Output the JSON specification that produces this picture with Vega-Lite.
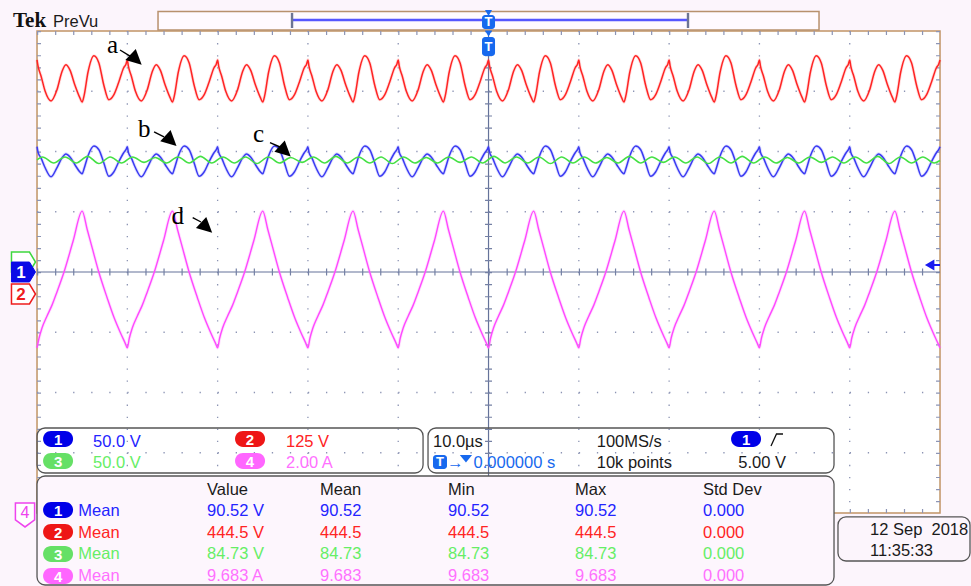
{
  "$schema": "https://vega.github.io/schema/vega-lite/v6.json",
  "width": 971,
  "height": 586,
  "autosize": {"type": "fit", "contains": "padding"},
  "padding": 0,
  "background": "#fcf5fc",
  "config": {"view": {"stroke": null}},
  "datasets": {
    "frame": [{"t": -50, "t2": 50, "v": 4, "v2": -4}],
    "vdiv": [
      {"t": -40, "v": 4, "v2": -4}, {"t": -30, "v": 4, "v2": -4}, {"t": -20, "v": 4, "v2": -4}, {"t": -10, "v": 4, "v2": -4},
      {"t": 10, "v": 4, "v2": -4}, {"t": 20, "v": 4, "v2": -4}, {"t": 30, "v": 4, "v2": -4}, {"t": 40, "v": 4, "v2": -4}
    ],
    "hdiv": [
      {"t": -50, "t2": 50, "v": 3}, {"t": -50, "t2": 50, "v": 2}, {"t": -50, "t2": 50, "v": 1},
      {"t": -50, "t2": 50, "v": -1}, {"t": -50, "t2": 50, "v": -2}, {"t": -50, "t2": 50, "v": -3}
    ],
    "hedge": [{"t": -50, "t2": 50, "v": 3.967}, {"t": -50, "t2": 50, "v": -3.967}],
    "vedge": [{"t": -49.78, "v": 4, "v2": -4}, {"t": 49.78, "v": 4, "v2": -4}],
    "hctr": [{"t": -50, "t2": 50, "v": 0}],
    "vctr": [{"t": 0, "v": 4, "v2": -4}],
    "ch12": [
      {"t":-50,"v":3.52,"b":2.08},{"t":-49.89,"v":3.42,"b":1.99},{"t":-49.55,"v":3.25,"b":1.89},{"t":-49.1,"v":3.0,"b":1.73},{"t":-48.45,"v":2.84,"b":1.58},{"t":-47.8,"v":3.02,"b":1.73},{"t":-47.25,"v":3.32,"b":1.89},{"t":-46.8,"v":3.44,"b":1.96},{"t":-46.35,"v":3.35,"b":1.91},{"t":-45.8,"v":3.1,"b":1.78},{"t":-45.25,"v":2.89,"b":1.66},{"t":-45,"v":2.82,"b":1.63},{"t":-44.8,"v":2.92,"b":1.71},{"t":-44.35,"v":3.32,"b":1.93},{"t":-43.7,"v":3.59,"b":2.09},{"t":-43.15,"v":3.47,"b":2.03},{"t":-42.6,"v":3.1,"b":1.81},{"t":-42.05,"v":2.86,"b":1.59},{"t":-41.5,"v":2.94,"b":1.66},{"t":-40.95,"v":3.15,"b":1.83},{"t":-40.4,"v":3.39,"b":1.98},{"t":-40.15,"v":3.45,"b":2.03},
      {"t":-40,"v":3.52,"b":2.08},{"t":-39.89,"v":3.42,"b":1.99},{"t":-39.55,"v":3.25,"b":1.89},{"t":-39.1,"v":3.0,"b":1.73},{"t":-38.45,"v":2.84,"b":1.58},{"t":-37.8,"v":3.02,"b":1.73},{"t":-37.25,"v":3.32,"b":1.89},{"t":-36.8,"v":3.44,"b":1.96},{"t":-36.35,"v":3.35,"b":1.91},{"t":-35.8,"v":3.1,"b":1.78},{"t":-35.25,"v":2.89,"b":1.66},{"t":-35,"v":2.82,"b":1.63},{"t":-34.8,"v":2.92,"b":1.71},{"t":-34.35,"v":3.32,"b":1.93},{"t":-33.7,"v":3.59,"b":2.09},{"t":-33.15,"v":3.47,"b":2.03},{"t":-32.6,"v":3.1,"b":1.81},{"t":-32.05,"v":2.86,"b":1.59},{"t":-31.5,"v":2.94,"b":1.66},{"t":-30.95,"v":3.15,"b":1.83},{"t":-30.4,"v":3.39,"b":1.98},{"t":-30.15,"v":3.45,"b":2.03},
      {"t":-30,"v":3.52,"b":2.08},{"t":-29.89,"v":3.42,"b":1.99},{"t":-29.55,"v":3.25,"b":1.89},{"t":-29.1,"v":3.0,"b":1.73},{"t":-28.45,"v":2.84,"b":1.58},{"t":-27.8,"v":3.02,"b":1.73},{"t":-27.25,"v":3.32,"b":1.89},{"t":-26.8,"v":3.44,"b":1.96},{"t":-26.35,"v":3.35,"b":1.91},{"t":-25.8,"v":3.1,"b":1.78},{"t":-25.25,"v":2.89,"b":1.66},{"t":-25,"v":2.82,"b":1.63},{"t":-24.8,"v":2.92,"b":1.71},{"t":-24.35,"v":3.32,"b":1.93},{"t":-23.7,"v":3.59,"b":2.09},{"t":-23.15,"v":3.47,"b":2.03},{"t":-22.6,"v":3.1,"b":1.81},{"t":-22.05,"v":2.86,"b":1.59},{"t":-21.5,"v":2.94,"b":1.66},{"t":-20.95,"v":3.15,"b":1.83},{"t":-20.4,"v":3.39,"b":1.98},{"t":-20.15,"v":3.45,"b":2.03},
      {"t":-20,"v":3.52,"b":2.08},{"t":-19.89,"v":3.42,"b":1.99},{"t":-19.55,"v":3.25,"b":1.89},{"t":-19.1,"v":3.0,"b":1.73},{"t":-18.45,"v":2.84,"b":1.58},{"t":-17.8,"v":3.02,"b":1.73},{"t":-17.25,"v":3.32,"b":1.89},{"t":-16.8,"v":3.44,"b":1.96},{"t":-16.35,"v":3.35,"b":1.91},{"t":-15.8,"v":3.1,"b":1.78},{"t":-15.25,"v":2.89,"b":1.66},{"t":-15,"v":2.82,"b":1.63},{"t":-14.8,"v":2.92,"b":1.71},{"t":-14.35,"v":3.32,"b":1.93},{"t":-13.7,"v":3.59,"b":2.09},{"t":-13.15,"v":3.47,"b":2.03},{"t":-12.6,"v":3.1,"b":1.81},{"t":-12.05,"v":2.86,"b":1.59},{"t":-11.5,"v":2.94,"b":1.66},{"t":-10.95,"v":3.15,"b":1.83},{"t":-10.4,"v":3.39,"b":1.98},{"t":-10.15,"v":3.45,"b":2.03},
      {"t":-10,"v":3.52,"b":2.08},{"t":-9.89,"v":3.42,"b":1.99},{"t":-9.55,"v":3.25,"b":1.89},{"t":-9.1,"v":3.0,"b":1.73},{"t":-8.45,"v":2.84,"b":1.58},{"t":-7.8,"v":3.02,"b":1.73},{"t":-7.25,"v":3.32,"b":1.89},{"t":-6.8,"v":3.44,"b":1.96},{"t":-6.35,"v":3.35,"b":1.91},{"t":-5.8,"v":3.1,"b":1.78},{"t":-5.25,"v":2.89,"b":1.66},{"t":-5,"v":2.82,"b":1.63},{"t":-4.8,"v":2.92,"b":1.71},{"t":-4.35,"v":3.32,"b":1.93},{"t":-3.7,"v":3.59,"b":2.09},{"t":-3.15,"v":3.47,"b":2.03},{"t":-2.6,"v":3.1,"b":1.81},{"t":-2.05,"v":2.86,"b":1.59},{"t":-1.5,"v":2.94,"b":1.66},{"t":-0.95,"v":3.15,"b":1.83},{"t":-0.4,"v":3.39,"b":1.98},{"t":-0.15,"v":3.45,"b":2.03},
      {"t":0,"v":3.52,"b":2.08},{"t":0.11,"v":3.42,"b":1.99},{"t":0.45,"v":3.25,"b":1.89},{"t":0.9,"v":3.0,"b":1.73},{"t":1.55,"v":2.84,"b":1.58},{"t":2.2,"v":3.02,"b":1.73},{"t":2.75,"v":3.32,"b":1.89},{"t":3.2,"v":3.44,"b":1.96},{"t":3.65,"v":3.35,"b":1.91},{"t":4.2,"v":3.1,"b":1.78},{"t":4.75,"v":2.89,"b":1.66},{"t":5,"v":2.82,"b":1.63},{"t":5.2,"v":2.92,"b":1.71},{"t":5.65,"v":3.32,"b":1.93},{"t":6.3,"v":3.59,"b":2.09},{"t":6.85,"v":3.47,"b":2.03},{"t":7.4,"v":3.1,"b":1.81},{"t":7.95,"v":2.86,"b":1.59},{"t":8.5,"v":2.94,"b":1.66},{"t":9.05,"v":3.15,"b":1.83},{"t":9.6,"v":3.39,"b":1.98},{"t":9.85,"v":3.45,"b":2.03},
      {"t":10,"v":3.52,"b":2.08},{"t":10.11,"v":3.42,"b":1.99},{"t":10.45,"v":3.25,"b":1.89},{"t":10.9,"v":3.0,"b":1.73},{"t":11.55,"v":2.84,"b":1.58},{"t":12.2,"v":3.02,"b":1.73},{"t":12.75,"v":3.32,"b":1.89},{"t":13.2,"v":3.44,"b":1.96},{"t":13.65,"v":3.35,"b":1.91},{"t":14.2,"v":3.1,"b":1.78},{"t":14.75,"v":2.89,"b":1.66},{"t":15,"v":2.82,"b":1.63},{"t":15.2,"v":2.92,"b":1.71},{"t":15.65,"v":3.32,"b":1.93},{"t":16.3,"v":3.59,"b":2.09},{"t":16.85,"v":3.47,"b":2.03},{"t":17.4,"v":3.1,"b":1.81},{"t":17.95,"v":2.86,"b":1.59},{"t":18.5,"v":2.94,"b":1.66},{"t":19.05,"v":3.15,"b":1.83},{"t":19.6,"v":3.39,"b":1.98},{"t":19.85,"v":3.45,"b":2.03},
      {"t":20,"v":3.52,"b":2.08},{"t":20.11,"v":3.42,"b":1.99},{"t":20.45,"v":3.25,"b":1.89},{"t":20.9,"v":3.0,"b":1.73},{"t":21.55,"v":2.84,"b":1.58},{"t":22.2,"v":3.02,"b":1.73},{"t":22.75,"v":3.32,"b":1.89},{"t":23.2,"v":3.44,"b":1.96},{"t":23.65,"v":3.35,"b":1.91},{"t":24.2,"v":3.1,"b":1.78},{"t":24.75,"v":2.89,"b":1.66},{"t":25,"v":2.82,"b":1.63},{"t":25.2,"v":2.92,"b":1.71},{"t":25.65,"v":3.32,"b":1.93},{"t":26.3,"v":3.59,"b":2.09},{"t":26.85,"v":3.47,"b":2.03},{"t":27.4,"v":3.1,"b":1.81},{"t":27.95,"v":2.86,"b":1.59},{"t":28.5,"v":2.94,"b":1.66},{"t":29.05,"v":3.15,"b":1.83},{"t":29.6,"v":3.39,"b":1.98},{"t":29.85,"v":3.45,"b":2.03},
      {"t":30,"v":3.52,"b":2.08},{"t":30.11,"v":3.42,"b":1.99},{"t":30.45,"v":3.25,"b":1.89},{"t":30.9,"v":3.0,"b":1.73},{"t":31.55,"v":2.84,"b":1.58},{"t":32.2,"v":3.02,"b":1.73},{"t":32.75,"v":3.32,"b":1.89},{"t":33.2,"v":3.44,"b":1.96},{"t":33.65,"v":3.35,"b":1.91},{"t":34.2,"v":3.1,"b":1.78},{"t":34.75,"v":2.89,"b":1.66},{"t":35,"v":2.82,"b":1.63},{"t":35.2,"v":2.92,"b":1.71},{"t":35.65,"v":3.32,"b":1.93},{"t":36.3,"v":3.59,"b":2.09},{"t":36.85,"v":3.47,"b":2.03},{"t":37.4,"v":3.1,"b":1.81},{"t":37.95,"v":2.86,"b":1.59},{"t":38.5,"v":2.94,"b":1.66},{"t":39.05,"v":3.15,"b":1.83},{"t":39.6,"v":3.39,"b":1.98},{"t":39.85,"v":3.45,"b":2.03},
      {"t":40,"v":3.52,"b":2.08},{"t":40.11,"v":3.42,"b":1.99},{"t":40.45,"v":3.25,"b":1.89},{"t":40.9,"v":3.0,"b":1.73},{"t":41.55,"v":2.84,"b":1.58},{"t":42.2,"v":3.02,"b":1.73},{"t":42.75,"v":3.32,"b":1.89},{"t":43.2,"v":3.44,"b":1.96},{"t":43.65,"v":3.35,"b":1.91},{"t":44.2,"v":3.1,"b":1.78},{"t":44.75,"v":2.89,"b":1.66},{"t":45,"v":2.82,"b":1.63},{"t":45.2,"v":2.92,"b":1.71},{"t":45.65,"v":3.32,"b":1.93},{"t":46.3,"v":3.59,"b":2.09},{"t":46.85,"v":3.47,"b":2.03},{"t":47.4,"v":3.1,"b":1.81},{"t":47.95,"v":2.86,"b":1.59},{"t":48.5,"v":2.94,"b":1.66},{"t":49.05,"v":3.15,"b":1.83},{"t":49.6,"v":3.39,"b":1.98},{"t":49.85,"v":3.45,"b":2.03},
      {"t":50,"v":3.52,"b":2.08}
    ],
    "ch3": [
      {"t":-50,"v":1.86},{"t":-49.4,"v":1.91},{"t":-48.15,"v":1.81},{"t":-46.9,"v":1.91},{"t":-45.65,"v":1.81},{"t":-44.4,"v":1.92},{"t":-43.15,"v":1.8},{"t":-41.9,"v":1.91},{"t":-40.65,"v":1.81},
      {"t":-39.4,"v":1.91},{"t":-38.15,"v":1.82},{"t":-36.9,"v":1.9},{"t":-35.65,"v":1.81},{"t":-34.4,"v":1.91},{"t":-33.15,"v":1.81},{"t":-31.9,"v":1.92},{"t":-30.65,"v":1.81},
      {"t":-29.4,"v":1.91},{"t":-28.15,"v":1.81},{"t":-26.9,"v":1.91},{"t":-25.65,"v":1.8},{"t":-24.4,"v":1.91},{"t":-23.15,"v":1.81},{"t":-21.9,"v":1.9},{"t":-20.65,"v":1.82},
      {"t":-19.4,"v":1.91},{"t":-18.15,"v":1.81},{"t":-16.9,"v":1.92},{"t":-15.65,"v":1.81},{"t":-14.4,"v":1.91},{"t":-13.15,"v":1.81},{"t":-11.9,"v":1.91},{"t":-10.65,"v":1.8},
      {"t":-9.4,"v":1.91},{"t":-8.15,"v":1.81},{"t":-6.9,"v":1.9},{"t":-5.65,"v":1.81},{"t":-4.4,"v":1.91},{"t":-3.15,"v":1.82},{"t":-1.9,"v":1.91},{"t":-0.65,"v":1.81},
      {"t":0.6,"v":1.92},{"t":1.85,"v":1.81},{"t":3.1,"v":1.91},{"t":4.35,"v":1.81},{"t":5.6,"v":1.91},{"t":6.85,"v":1.8},{"t":8.1,"v":1.91},{"t":9.35,"v":1.81},
      {"t":10.6,"v":1.91},{"t":11.85,"v":1.81},{"t":13.1,"v":1.9},{"t":14.35,"v":1.81},{"t":15.6,"v":1.92},{"t":16.85,"v":1.81},{"t":18.1,"v":1.91},{"t":19.35,"v":1.82},
      {"t":20.6,"v":1.91},{"t":21.85,"v":1.81},{"t":23.1,"v":1.91},{"t":24.35,"v":1.8},{"t":25.6,"v":1.91},{"t":26.85,"v":1.81},{"t":28.1,"v":1.92},{"t":29.35,"v":1.81},
      {"t":30.6,"v":1.91},{"t":31.85,"v":1.81},{"t":33.1,"v":1.9},{"t":34.35,"v":1.81},{"t":35.6,"v":1.91},{"t":36.85,"v":1.82},{"t":38.1,"v":1.91},{"t":39.35,"v":1.81},
      {"t":40.6,"v":1.91},{"t":41.85,"v":1.81},{"t":43.1,"v":1.92},{"t":44.35,"v":1.8},{"t":45.6,"v":1.91},{"t":46.85,"v":1.81},{"t":48.1,"v":1.91},{"t":49.35,"v":1.81},{"t":50,"v":1.85}
    ],
    "ch4": [
      {"t":-50,"v":-1.26},{"t":-49.78,"v":-1.1},{"t":-49.45,"v":-0.93},{"t":-48.89,"v":-0.73},{"t":-48.34,"v":-0.55},{"t":-47.79,"v":-0.33},{"t":-47.01,"v":0},{"t":-46.01,"v":0.51},{"t":-45,"v":1.01},{"t":-44.45,"v":0.71},{"t":-43.89,"v":0.4},{"t":-43.16,"v":0},{"t":-42.23,"v":-0.43},{"t":-41.46,"v":-0.76},{"t":-40.79,"v":-1.0},{"t":-40.24,"v":-1.18},
      {"t":-40,"v":-1.26},{"t":-39.78,"v":-1.1},{"t":-39.45,"v":-0.93},{"t":-38.89,"v":-0.73},{"t":-38.34,"v":-0.55},{"t":-37.79,"v":-0.33},{"t":-37.01,"v":0},{"t":-36.01,"v":0.51},{"t":-35,"v":1.01},{"t":-34.45,"v":0.71},{"t":-33.89,"v":0.4},{"t":-33.16,"v":0},{"t":-32.23,"v":-0.43},{"t":-31.46,"v":-0.76},{"t":-30.79,"v":-1.0},{"t":-30.24,"v":-1.18},
      {"t":-30,"v":-1.26},{"t":-29.78,"v":-1.1},{"t":-29.45,"v":-0.93},{"t":-28.89,"v":-0.73},{"t":-28.34,"v":-0.55},{"t":-27.79,"v":-0.33},{"t":-27.01,"v":0},{"t":-26.01,"v":0.51},{"t":-25,"v":1.01},{"t":-24.45,"v":0.71},{"t":-23.89,"v":0.4},{"t":-23.16,"v":0},{"t":-22.23,"v":-0.43},{"t":-21.46,"v":-0.76},{"t":-20.79,"v":-1.0},{"t":-20.24,"v":-1.18},
      {"t":-20,"v":-1.26},{"t":-19.78,"v":-1.1},{"t":-19.45,"v":-0.93},{"t":-18.89,"v":-0.73},{"t":-18.34,"v":-0.55},{"t":-17.79,"v":-0.33},{"t":-17.01,"v":0},{"t":-16.01,"v":0.51},{"t":-15,"v":1.01},{"t":-14.45,"v":0.71},{"t":-13.89,"v":0.4},{"t":-13.16,"v":0},{"t":-12.23,"v":-0.43},{"t":-11.46,"v":-0.76},{"t":-10.79,"v":-1.0},{"t":-10.24,"v":-1.18},
      {"t":-10,"v":-1.26},{"t":-9.78,"v":-1.1},{"t":-9.45,"v":-0.93},{"t":-8.89,"v":-0.73},{"t":-8.34,"v":-0.55},{"t":-7.79,"v":-0.33},{"t":-7.01,"v":0},{"t":-6.01,"v":0.51},{"t":-5,"v":1.01},{"t":-4.45,"v":0.71},{"t":-3.89,"v":0.4},{"t":-3.16,"v":0},{"t":-2.23,"v":-0.43},{"t":-1.46,"v":-0.76},{"t":-0.79,"v":-1.0},{"t":-0.24,"v":-1.18},
      {"t":0,"v":-1.26},{"t":0.22,"v":-1.1},{"t":0.55,"v":-0.93},{"t":1.11,"v":-0.73},{"t":1.66,"v":-0.55},{"t":2.21,"v":-0.33},{"t":2.99,"v":0},{"t":3.99,"v":0.51},{"t":5,"v":1.01},{"t":5.55,"v":0.71},{"t":6.11,"v":0.4},{"t":6.84,"v":0},{"t":7.77,"v":-0.43},{"t":8.54,"v":-0.76},{"t":9.21,"v":-1.0},{"t":9.76,"v":-1.18},
      {"t":10,"v":-1.26},{"t":10.22,"v":-1.1},{"t":10.55,"v":-0.93},{"t":11.11,"v":-0.73},{"t":11.66,"v":-0.55},{"t":12.21,"v":-0.33},{"t":12.99,"v":0},{"t":13.99,"v":0.51},{"t":15,"v":1.01},{"t":15.55,"v":0.71},{"t":16.11,"v":0.4},{"t":16.84,"v":0},{"t":17.77,"v":-0.43},{"t":18.54,"v":-0.76},{"t":19.21,"v":-1.0},{"t":19.76,"v":-1.18},
      {"t":20,"v":-1.26},{"t":20.22,"v":-1.1},{"t":20.55,"v":-0.93},{"t":21.11,"v":-0.73},{"t":21.66,"v":-0.55},{"t":22.21,"v":-0.33},{"t":22.99,"v":0},{"t":23.99,"v":0.51},{"t":25,"v":1.01},{"t":25.55,"v":0.71},{"t":26.11,"v":0.4},{"t":26.84,"v":0},{"t":27.77,"v":-0.43},{"t":28.54,"v":-0.76},{"t":29.21,"v":-1.0},{"t":29.76,"v":-1.18},
      {"t":30,"v":-1.26},{"t":30.22,"v":-1.1},{"t":30.55,"v":-0.93},{"t":31.11,"v":-0.73},{"t":31.66,"v":-0.55},{"t":32.21,"v":-0.33},{"t":32.99,"v":0},{"t":33.99,"v":0.51},{"t":35,"v":1.01},{"t":35.55,"v":0.71},{"t":36.11,"v":0.4},{"t":36.84,"v":0},{"t":37.77,"v":-0.43},{"t":38.54,"v":-0.76},{"t":39.21,"v":-1.0},{"t":39.76,"v":-1.18},
      {"t":40,"v":-1.26},{"t":40.22,"v":-1.1},{"t":40.55,"v":-0.93},{"t":41.11,"v":-0.73},{"t":41.66,"v":-0.55},{"t":42.21,"v":-0.33},{"t":42.99,"v":0},{"t":43.99,"v":0.51},{"t":45,"v":1.01},{"t":45.55,"v":0.71},{"t":46.11,"v":0.4},{"t":46.84,"v":0},{"t":47.77,"v":-0.43},{"t":48.54,"v":-0.76},{"t":49.21,"v":-1.0},{"t":49.76,"v":-1.18},
      {"t":50,"v":-1.26}
    ],
    "arrows": [
      {"t": -40.81, "v": 3.685, "t2": -39.7, "v2": 3.585},
      {"t": -37.04, "v": 2.324, "t2": -35.94, "v2": 2.241},
      {"t": -24.2, "v": 2.146, "t2": -23.09, "v2": 2.075},
      {"t": -32.76, "v": 0.901, "t2": -31.84, "v2": 0.83}
    ],
    "heads": [
      {"t": -39.18, "v": 3.547}, {"t": -35.32, "v": 2.199}, {"t": -22.68, "v": 2.025}, {"t": -31.37, "v": 0.757}
    ],
    "letters": [
      {"t": -42.24, "v": 3.635, "s": "a"}, {"t": -38.81, "v": 2.241, "s": "b"},
      {"t": -26.08, "v": 2.163, "s": "c"}, {"t": -35.1, "v": 0.797, "s": "d"}
    ],
    "recbar": [{"t": -36.6, "t2": 36.6, "v": 4.324, "v2": 4.017}],
    "recwin": [{"t": -21.76, "t2": 22.09, "v": 4.183}],
    "recbrk": [{"t": -21.76, "v": 4.3, "v2": 4.05}, {"t": 22.09, "v": 4.3, "v2": 4.05}],
    "trigbox": [
      {"t": -0.72, "t2": 0.72, "v": 4.266, "v2": 4.033},
      {"t": -0.72, "t2": 0.72, "v": 3.9, "v2": 3.585},
      {"t": -6.15, "t2": -4.6, "v": -3.037, "v2": -3.27}
    ],
    "trigtri": [{"t": 0, "v": 4.299}, {"t": 0, "v": 3.959}],
    "panelTri": [{"t": -2.5, "v": -3.1}],
    "trigtxt": [{"t": 0, "v": 4.149, "s": "T"}, {"t": 0, "v": 3.743, "s": "T"}, {"t": -5.37, "v": -3.154, "s": "T"}],
    "tlev": [{"t": 48.85, "v": 0.116}],
    "tlevl": [{"t": 49.1, "t2": 50, "v": 0.116}],
    "panels": [
      {"t": -50, "t2": -7.25, "v": -2.589, "v2": -3.336},
      {"t": -6.7, "t2": 38.26, "v": -2.589, "v2": -3.336},
      {"t": 38.7, "t2": 53.32, "v": -4.066, "v2": -4.797}
    ],
    "meas": [{"t": -50, "t2": 38.26, "v": -3.386, "v2": -5.195}],
    "edge": [{"t": 31.28, "v": -2.888}, {"t": 31.89, "v": -2.689}, {"t": 32.61, "v": -2.689}],
    "pills": [
      {"c": "1", "t": -47.67, "v": -2.772, "s": "1"}, {"c": "2", "t": -26.41, "v": -2.772, "s": "2"},
      {"c": "3", "t": -47.67, "v": -3.137, "s": "3"}, {"c": "4", "t": -26.41, "v": -3.137, "s": "4"},
      {"c": "1", "t": 28.52, "v": -2.772, "s": "1"},
      {"c": "1", "t": -47.67, "v": -3.95, "s": "1"}, {"c": "2", "t": -47.67, "v": -4.315, "s": "2"},
      {"c": "3", "t": -47.67, "v": -4.68, "s": "3"}, {"c": "4", "t": -47.67, "v": -5.046, "s": "4"}
    ],
    "labels": [
      {"c": "k", "t": -48.23, "v": 4.071, "s": "PreVu"},
      {"c": "1", "t": -43.8, "v": -2.899, "s": "50.0 V"},
      {"c": "2", "t": -22.43, "v": -2.899, "s": "125 V"},
      {"c": "3", "t": -43.8, "v": -3.258, "s": "50.0 V"},
      {"c": "4", "t": -22.43, "v": -3.258, "s": "2.00 A"},
      {"c": "k", "t": -6.15, "v": -2.899, "s": "10.0µs"},
      {"c": "k", "t": 11.98, "v": -2.899, "s": "100MS/s"},
      {"c": "k", "t": 11.98, "v": -3.258, "s": "10k points"},
      {"c": "k", "t": 27.66, "v": -3.258, "s": "5.00 V"},
      {"c": "T", "t": -4.6, "v": -3.258, "s": "→"},
      {"c": "T", "t": -1.66, "v": -3.258, "s": "0.000000 s"},
      {"c": "k", "t": -31.17, "v": -3.701, "s": "Value"},
      {"c": "k", "t": -18.66, "v": -3.701, "s": "Mean"},
      {"c": "k", "t": -4.49, "v": -3.701, "s": "Min"},
      {"c": "k", "t": 9.58, "v": -3.701, "s": "Max"},
      {"c": "k", "t": 23.75, "v": -3.701, "s": "Std Dev"},
      {"c": "1", "t": -45.43, "v": -4.05, "s": "Mean"},
      {"c": "1", "t": -31.17, "v": -4.05, "s": "90.52 V"},
      {"c": "1", "t": -18.66, "v": -4.05, "s": "90.52"},
      {"c": "1", "t": -4.49, "v": -4.05, "s": "90.52"},
      {"c": "1", "t": 9.58, "v": -4.05, "s": "90.52"},
      {"c": "1", "t": 23.75, "v": -4.05, "s": "0.000"},
      {"c": "2", "t": -45.43, "v": -4.415, "s": "Mean"},
      {"c": "2", "t": -31.17, "v": -4.415, "s": "444.5 V"},
      {"c": "2", "t": -18.66, "v": -4.415, "s": "444.5"},
      {"c": "2", "t": -4.49, "v": -4.415, "s": "444.5"},
      {"c": "2", "t": 9.58, "v": -4.415, "s": "444.5"},
      {"c": "2", "t": 23.75, "v": -4.415, "s": "0.000"},
      {"c": "3", "t": -45.43, "v": -4.768, "s": "Mean"},
      {"c": "3", "t": -31.17, "v": -4.768, "s": "84.73 V"},
      {"c": "3", "t": -18.66, "v": -4.768, "s": "84.73"},
      {"c": "3", "t": -4.49, "v": -4.768, "s": "84.73"},
      {"c": "3", "t": 9.58, "v": -4.768, "s": "84.73"},
      {"c": "3", "t": 23.75, "v": -4.768, "s": "0.000"},
      {"c": "4", "t": -45.43, "v": -5.124, "s": "Mean"},
      {"c": "4", "t": -31.17, "v": -5.124, "s": "9.683 A"},
      {"c": "4", "t": -18.66, "v": -5.124, "s": "9.683"},
      {"c": "4", "t": -4.49, "v": -5.124, "s": "9.683"},
      {"c": "4", "t": 9.58, "v": -5.124, "s": "9.683"},
      {"c": "4", "t": 23.75, "v": -5.124, "s": "0.000"},
      {"c": "k", "t": 42.25, "v": -4.365, "s": "12 Sep\u00a0 2018"},
      {"c": "k", "t": 42.25, "v": -4.714, "s": "11:35:33"}
    ]
  },
  "encoding": {
    "x": {"field": "t", "type": "quantitative", "scale": {"domain": [-54.1, 53.43], "nice": false, "zero": false}, "axis": null},
    "y": {"field": "v", "type": "quantitative", "scale": {"domain": [-5.212, 4.515], "nice": false, "zero": false}, "axis": null}
  },
  "layer": [
    {"data": {"name": "frame"}, "mark": {"type": "rect", "fill": "#ffffff", "stroke": "#c19466", "strokeWidth": 1.5},
     "encoding": {"x2": {"field": "t2"}, "y2": {"field": "v2"}}},
    {"data": {"name": "vdiv"}, "mark": {"type": "rule", "color": "#8c94b4", "strokeWidth": 1.3, "strokeDash": [1.3, 10.75]},
     "encoding": {"y2": {"field": "v2"}}},
    {"data": {"name": "hdiv"}, "mark": {"type": "rule", "color": "#8c94b4", "strokeWidth": 1.3, "strokeDash": [1.3, 16.76]},
     "encoding": {"x2": {"field": "t2"}}},
    {"data": {"name": "hedge"}, "mark": {"type": "rule", "color": "#8c94b4", "strokeWidth": 4, "strokeDash": [1.2, 16.86]},
     "encoding": {"x2": {"field": "t2"}}},
    {"data": {"name": "vedge"}, "mark": {"type": "rule", "color": "#8c94b4", "strokeWidth": 4, "strokeDash": [1.2, 10.85]},
     "encoding": {"y2": {"field": "v2"}}},
    {"data": {"name": "hctr"}, "mark": {"type": "rule", "color": "#65739a", "strokeWidth": 1.2},
     "encoding": {"x2": {"field": "t2"}}},
    {"data": {"name": "vctr"}, "mark": {"type": "rule", "color": "#65739a", "strokeWidth": 1.2},
     "encoding": {"y2": {"field": "v2"}}},
    {"data": {"name": "hctr"}, "mark": {"type": "rule", "color": "#7480a4", "strokeWidth": 7, "strokeDash": [1.2, 16.86]},
     "encoding": {"x2": {"field": "t2"}}},
    {"data": {"name": "vctr"}, "mark": {"type": "rule", "color": "#7480a4", "strokeWidth": 7, "strokeDash": [1.2, 10.85]},
     "encoding": {"y2": {"field": "v2"}}},

    {"data": {"name": "ch12"}, "mark": {"type": "line", "color": "#ff6a6a", "strokeWidth": 3.2, "opacity": 0.22, "interpolate": "monotone"}},
    {"data": {"name": "ch12"}, "mark": {"type": "line", "color": "#6a6aff", "strokeWidth": 3.2, "opacity": 0.22, "interpolate": "monotone"},
     "encoding": {"y": {"field": "b", "type": "quantitative", "scale": {"domain": [-5.212, 4.515], "nice": false, "zero": false}, "axis": null}}},
    {"data": {"name": "ch4"}, "mark": {"type": "line", "color": "#ff8cff", "strokeWidth": 3.2, "opacity": 0.25, "interpolate": "monotone"}},
    {"data": {"name": "ch12"}, "mark": {"type": "line", "color": "#ff2424", "strokeWidth": 1.5, "interpolate": "monotone"}},
    {"data": {"name": "ch12"}, "mark": {"type": "line", "color": "#3a3af2", "strokeWidth": 1.5, "interpolate": "monotone"},
     "encoding": {"y": {"field": "b", "type": "quantitative", "scale": {"domain": [-5.212, 4.515], "nice": false, "zero": false}, "axis": null}}},
    {"data": {"name": "ch3"}, "mark": {"type": "line", "color": "#45e045", "strokeWidth": 1.6, "interpolate": "monotone"}},
    {"data": {"name": "ch4"}, "mark": {"type": "line", "color": "#ff48ff", "strokeWidth": 1.4, "interpolate": "monotone"}},

    {"data": {"name": "arrows"}, "mark": {"type": "rule", "color": "#000000", "strokeWidth": 1.4},
     "encoding": {"x2": {"field": "t2"}, "y2": {"field": "v2"}}},
    {"data": {"name": "heads"}, "mark": {"type": "point", "shape": "M0,-1L0.8,0.6L-0.8,0.6Z", "size": 360, "angle": 133, "filled": true, "color": "#000000", "opacity": 1}},
    {"data": {"name": "letters"}, "mark": {"type": "text", "font": "Liberation Serif", "fontSize": 25, "align": "left", "baseline": "alphabetic", "color": "#000000"},
     "encoding": {"text": {"field": "s"}}},

    {"data": {"name": "recbar"}, "mark": {"type": "rect", "fill": "#fffaff", "stroke": "#b8916e", "strokeWidth": 1.5},
     "encoding": {"x2": {"field": "t2"}, "y2": {"field": "v2"}}},
    {"data": {"name": "recwin"}, "mark": {"type": "rule", "color": "#5656ff", "strokeWidth": 2.6},
     "encoding": {"x2": {"field": "t2"}}},
    {"data": {"name": "recbrk"}, "mark": {"type": "rule", "color": "#6c7494", "strokeWidth": 2.4},
     "encoding": {"y2": {"field": "v2"}}},

    {"data": {"name": "trigbox"}, "mark": {"type": "rect", "fill": "#1769ee", "cornerRadius": 3},
     "encoding": {"x2": {"field": "t2"}, "y2": {"field": "v2"}}},
    {"data": {"name": "trigtri"}, "mark": {"type": "point", "shape": "triangle-down", "size": 50, "filled": true, "color": "#1769ee", "opacity": 1}},
    {"data": {"name": "panelTri"}, "mark": {"type": "point", "shape": "M-1,-0.6L1,-0.6L0,0.6Z", "size": 150, "filled": true, "color": "#1769ee", "opacity": 1}},
    {"data": {"name": "trigtxt"}, "mark": {"type": "text", "font": "Liberation Sans", "fontSize": 13, "fontWeight": "bold", "align": "center", "baseline": "middle", "color": "#ffffff"},
     "encoding": {"text": {"field": "s"}}},
    {"data": {"name": "tlevl"}, "mark": {"type": "rule", "color": "#1a1af0", "strokeWidth": 2},
     "encoding": {"x2": {"field": "t2"}}},
    {"data": {"name": "tlev"}, "mark": {"type": "point", "shape": "triangle-left", "size": 120, "filled": true, "color": "#1a1af0", "opacity": 1}},

    {"data": {"values": [{"t": -51.5, "v": 0.166}]},
     "mark": {"type": "point", "shape": "M-1,-0.83L0.5,-0.83L1,0L0.5,0.83L-1,0.83Z", "size": 576, "filled": true, "fill": "#ffffff", "stroke": "#3ed83e", "strokeWidth": 1.5, "opacity": 1}},
    {"data": {"values": [{"t": -51.5, "v": 0}]},
     "mark": {"type": "point", "shape": "M-1,-0.83L0.5,-0.83L1,0L0.5,0.83L-1,0.83Z", "size": 576, "filled": true, "fill": "#0a0ae6", "stroke": "#0a0ae6", "strokeWidth": 1, "opacity": 1}},
    {"data": {"values": [{"t": -51.5, "v": -0.365}]},
     "mark": {"type": "point", "shape": "M-1,-0.83L0.5,-0.83L1,0L0.5,0.83L-1,0.83Z", "size": 576, "filled": true, "fill": "#ffffff", "stroke": "#ee1c1c", "strokeWidth": 1.5, "opacity": 1}},
    {"data": {"values": [{"t": -51.33, "v": -4.033}]},
     "mark": {"type": "point", "shape": "M-0.8,-1L0.8,-1L0.8,0.4L0,1L-0.8,0.4Z", "size": 576, "filled": true, "fill": "#ffffff", "stroke": "#ee44ee", "strokeWidth": 1.5, "opacity": 1}},
    {"data": {"values": [{"t": -51.77, "v": 0, "s": "1"}]},
     "mark": {"type": "text", "font": "Liberation Sans", "fontSize": 17, "fontWeight": "bold", "align": "center", "baseline": "middle", "color": "#ffffff", "dy": 1},
     "encoding": {"text": {"field": "s"}}},
    {"data": {"values": [{"t": -51.77, "v": -0.365, "s": "2"}]},
     "mark": {"type": "text", "font": "Liberation Sans", "fontSize": 17, "fontWeight": "bold", "align": "center", "baseline": "middle", "color": "#ee1c1c", "dy": 1},
     "encoding": {"text": {"field": "s"}}},
    {"data": {"values": [{"t": -51.33, "v": -4.0, "s": "4"}]},
     "mark": {"type": "text", "font": "Liberation Sans", "fontSize": 16, "align": "center", "baseline": "middle", "color": "#ee44ee"},
     "encoding": {"text": {"field": "s"}}},

    {"data": {"name": "panels"}, "mark": {"type": "rect", "fillOpacity": 0, "fill": "#ffffff", "stroke": "#555555", "strokeWidth": 1.3, "cornerRadius": 8},
     "encoding": {"x2": {"field": "t2"}, "y2": {"field": "v2"}}},
    {"data": {"name": "meas"}, "mark": {"type": "rect", "fill": "#fdf6fd", "stroke": "#555555", "strokeWidth": 1.3, "cornerRadius": 8},
     "encoding": {"x2": {"field": "t2"}, "y2": {"field": "v2"}}},
    {"data": {"name": "edge"}, "mark": {"type": "line", "color": "#111111", "strokeWidth": 1.3}},

    {"data": {"name": "pills"},
     "mark": {"type": "point", "shape": "M-0.47,-0.53L0.47,-0.53A0.53,0.53 0 0 1 0.47,0.53L-0.47,0.53A0.53,0.53 0 0 1 -0.47,-0.53Z", "size": 900, "filled": true, "opacity": 1, "strokeWidth": 0},
     "encoding": {"fill": {"field": "c", "type": "nominal", "scale": {"domain": ["1", "2", "3", "4"], "range": ["#0000e8", "#ee1616", "#66e066", "#ff66ff"]}, "legend": null}}},
    {"data": {"name": "pills"}, "mark": {"type": "text", "font": "Liberation Sans", "fontSize": 15, "fontWeight": "bold", "align": "center", "baseline": "middle", "color": "#ffffff", "dy": 1},
     "encoding": {"text": {"field": "s"}}},
    {"data": {"name": "labels"}, "mark": {"type": "text", "font": "Liberation Sans", "fontSize": 16.5, "align": "left", "baseline": "alphabetic"},
     "encoding": {"text": {"field": "s"}, "color": {"field": "c", "type": "nominal", "scale": {"domain": ["1", "2", "3", "4", "T", "k"], "range": ["#2424ff", "#ff2424", "#66ee66", "#ff70ff", "#1769ee", "#1a1a1a"]}, "legend": null}}},
    {"data": {"values": [{"t": -52.66, "v": 4.071, "s": "Tek"}]},
     "mark": {"type": "text", "font": "Liberation Serif", "fontSize": 21, "fontWeight": "bold", "align": "left", "baseline": "alphabetic", "color": "#111111"},
     "encoding": {"text": {"field": "s"}}}
  ]
}
